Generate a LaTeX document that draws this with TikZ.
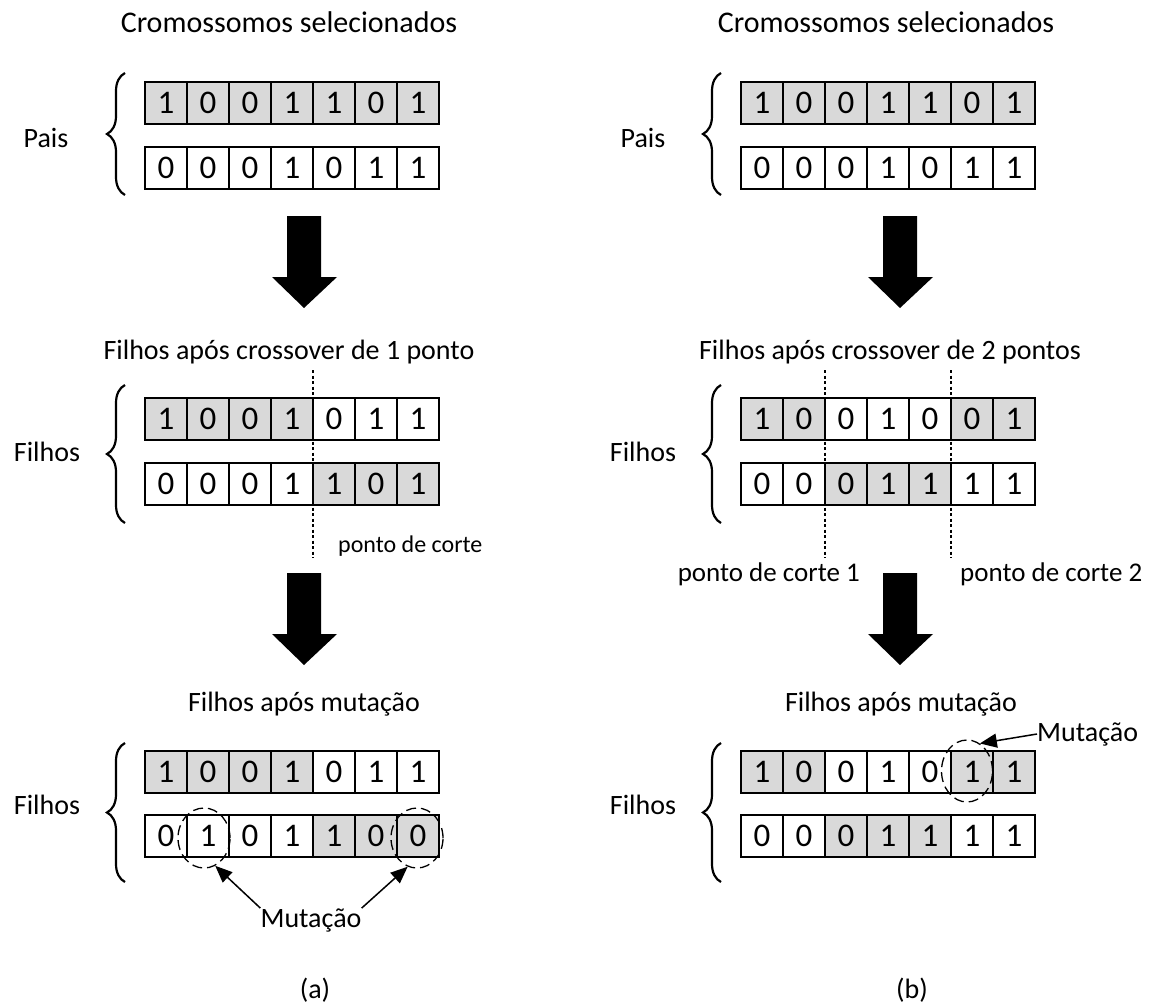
\documentclass[tikz,border=0pt]{standalone}
\usepackage{fontspec}
\setmainfont{Carlito}
\usetikzlibrary{decorations.pathreplacing,shapes.geometric,arrows.meta}
\definecolor{cellgray}{HTML}{D9D9D9}
\tikzset{
  bit/.style={draw, line width=1.2pt, minimum width=42pt, minimum height=42pt, inner sep=0pt, font=\fontsize{33}{38}\selectfont},
  lbl/.style={font=\fontsize{28}{34}\selectfont, inner sep=0pt},
  cutlbl/.style={font=\fontsize{27}{32}\selectfont, inner sep=0pt},
  curly/.style={decorate, decoration={brace, amplitude=18pt}, line width=2.2pt},
  cutline/.style={line width=1.5pt, dash pattern=on 3pt off 2.5pt},
  mutring/.style={draw, ellipse, line width=1.3pt, dash pattern=on 10pt off 5pt, minimum width=52pt, minimum height=60pt, inner sep=0pt},
  mutarrow/.style={line width=1.5pt, -{Triangle[length=17pt,width=14pt]}}
}
\begin{document}
\begin{tikzpicture}[x=1pt,y=-1pt]
    \useasboundingbox (0,0) rectangle (1150,1006);
    % titles
    \node[lbl, font=\fontsize{30}{36}\selectfont] (ta1) at (289,22) {Cromossomos selecionados};
    \node[lbl, font=\fontsize{30}{36}\selectfont] (tb1) at (886,22) {Cromossomos selecionados};
    \node[lbl] (ta2) at (289,352) {Filhos após crossover de 1 ponto};
    \node[lbl] (tb2) at (890,352) {Filhos após crossover de 2 pontos};
    \node[lbl] (ta3) at (304,704) {Filhos após mutação};
    \node[lbl] (tb3) at (901,704) {Filhos após mutação};
    % side labels and braces
    \node[lbl] (la1) at (46,138) {Pais};
    \node[lbl] (lb1) at (643,138) {Pais};
    \node[lbl] (la2) at (47,452) {Filhos};
    \node[lbl] (lb2) at (643,452) {Filhos};
    \node[lbl] (la3) at (47,805) {Filhos};
    \node[lbl] (lb3) at (643,805) {Filhos};
    \foreach \x in {0,596} {
        \draw[curly] (125+\x,195) -- (125+\x,73);
        \draw[curly] (125+\x,523) -- (125+\x,385);
        \draw[curly] (125+\x,882) -- (125+\x,743);
    }
    % left column (a)
    \foreach \b/\f [count=\i] in {1/cellgray,0/cellgray,0/cellgray,1/cellgray,1/cellgray,0/cellgray,1/cellgray}
        \node[bit, fill=\f] (pa1-\i) at (124+42*\i,103) {\b};
    \foreach \b/\f [count=\i] in {0/white,0/white,0/white,1/white,0/white,1/white,1/white}
        \node[bit, fill=\f] (pa2-\i) at (124+42*\i,168) {\b};
    \foreach \b/\f [count=\i] in {1/cellgray,0/cellgray,0/cellgray,1/cellgray,0/white,1/white,1/white}
        \node[bit, fill=\f] (fa1-\i) at (124+42*\i,419) {\b};
    \foreach \b/\f [count=\i] in {0/white,0/white,0/white,1/white,1/cellgray,0/cellgray,1/cellgray}
        \node[bit, fill=\f] (fa2-\i) at (124+42*\i,484) {\b};
    \foreach \b/\f [count=\i] in {1/cellgray,0/cellgray,0/cellgray,1/cellgray,0/white,1/white,1/white}
        \node[bit, fill=\f] (ma1-\i) at (124+42*\i,772) {\b};
    \foreach \b/\f [count=\i] in {0/white,1/white,0/white,1/white,1/cellgray,0/cellgray,0/cellgray}
        \node[bit, fill=\f] (ma2-\i) at (124+42*\i,836) {\b};
    % right column (b)
    \foreach \b/\f [count=\i] in {1/cellgray,0/cellgray,0/cellgray,1/cellgray,1/cellgray,0/cellgray,1/cellgray}
        \node[bit, fill=\f] (pb1-\i) at (720+42*\i,103) {\b};
    \foreach \b/\f [count=\i] in {0/white,0/white,0/white,1/white,0/white,1/white,1/white}
        \node[bit, fill=\f] (pb2-\i) at (720+42*\i,168) {\b};
    \foreach \b/\f [count=\i] in {1/cellgray,0/cellgray,0/white,1/white,0/white,0/cellgray,1/cellgray}
        \node[bit, fill=\f] (fb1-\i) at (720+42*\i,419) {\b};
    \foreach \b/\f [count=\i] in {0/white,0/white,0/cellgray,1/cellgray,1/cellgray,1/white,1/white}
        \node[bit, fill=\f] (fb2-\i) at (720+42*\i,484) {\b};
    \foreach \b/\f [count=\i] in {1/cellgray,0/cellgray,0/white,1/white,0/white,1/cellgray,1/cellgray}
        \node[bit, fill=\f] (mb1-\i) at (720+42*\i,772) {\b};
    \foreach \b/\f [count=\i] in {0/white,0/white,0/cellgray,1/cellgray,1/cellgray,1/white,1/white}
        \node[bit, fill=\f] (mb2-\i) at (720+42*\i,836) {\b};
    % big arrows
    \foreach \x in {0,596}
        \foreach \y in {0,357}
            \fill (287+\x,216+\y) -- (321+\x,216+\y) -- (321+\x,277+\y) -- (337+\x,277+\y)
                -- (304+\x,308+\y) -- (272+\x,277+\y) -- (287+\x,277+\y) -- cycle;
    % cut points
    \draw[cutline] (313,370) -- (313,558);
    \draw[cutline] (825,370) -- (825,558);
    \draw[cutline] (951,370) -- (951,558);
    \node[cutlbl, font=\fontsize{24}{29}\selectfont, anchor=west] (ca) at (338,546) {ponto de corte};
    \node[cutlbl, anchor=east] (cb1) at (860,574) {ponto de corte 1};
    \node[cutlbl, anchor=west] (cb2) at (960,574) {ponto de corte 2};
    % mutations
    \node[mutring] (ra1) at (204,838) {};
    \node[mutring] (ra2) at (417,838) {};
    \node[mutring, minimum height=62pt, minimum width=51pt] (rb) at (967,771) {};
    \node[lbl] (mua) at (311,920) {Mutação};
    \node[lbl, anchor=west] (mub) at (1037,734) {Mutação};
    \draw[mutarrow] (mua.north west) -- (ra1.-68);
    \draw[mutarrow] (mua.north east) -- (ra2.-108);
    \draw[mutarrow] (mub.west) -- (rb.65);
    % captions
    \node[lbl] (capa) at (315,990) {(a)};
    \node[lbl] (capb) at (912,990) {(b)};
\end{tikzpicture}
\end{document}
